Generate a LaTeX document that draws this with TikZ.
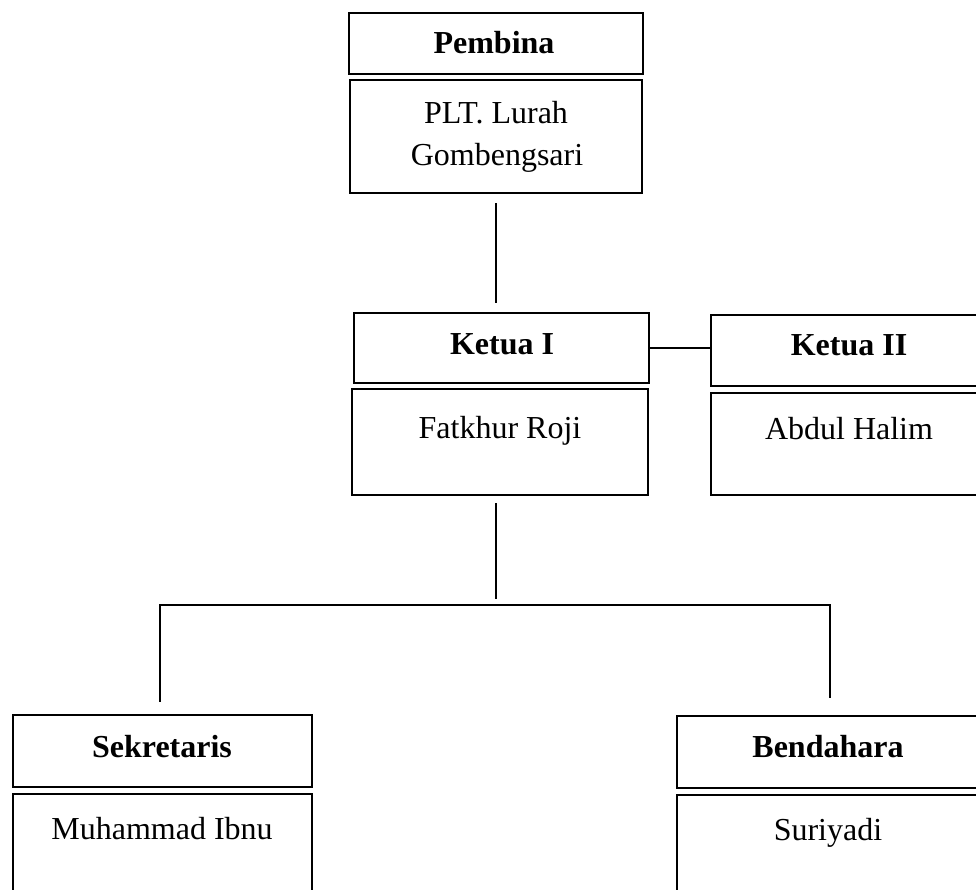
\documentclass[tikz,border=0pt]{standalone}
\usepackage{fontspec}
\setmainfont{Liberation Serif}
\begin{document}
\begin{tikzpicture}[x=1pt,y=-1pt,
  box/.style={draw, line width=2.9pt, rectangle, inner sep=0pt},
  lbl/.style={anchor=base, inner sep=0pt, font=\fontsize{32}{42}\selectfont},
  hd/.style={anchor=base, inner sep=0pt, font=\fontsize{32}{42}\selectfont\bfseries},
  conn/.style={line width=2.9pt}]
\useasboundingbox (0,0) rectangle (976,889);
\clip (0,0) rectangle (976,889);

% boxes
\node[box, minimum width=294pt, minimum height=61pt] (pembina) at (496,43.5) {};
\node[box, minimum width=292pt, minimum height=113pt] (plt) at (496,136.5) {};
\node[box, minimum width=295pt, minimum height=70pt] (ketua1) at (501.5,348) {};
\node[box, minimum width=296pt, minimum height=106pt] (fatkhur) at (500,442) {};
\node[box, minimum width=300pt, minimum height=71pt] (ketua2) at (861,350.5) {};
\node[box, minimum width=300pt, minimum height=102pt] (abdul) at (861,444) {};
\node[box, minimum width=299pt, minimum height=72pt] (sekretaris) at (162.5,751) {};
\node[box, minimum width=299pt, minimum height=108pt] (muhammad) at (162.5,848) {};
\node[box, minimum width=306pt, minimum height=72pt] (bendahara) at (830,752) {};
\node[box, minimum width=306pt, minimum height=106pt] (suriyadi) at (830,848) {};

% texts
\node[hd] (tpembina) at (494,53) {Pembina};
\node[lbl] (tplt1) at (496,123) {PLT. Lurah};
\node[lbl] (tplt2) at (497,165) {Gombengsari};
\node[hd] (tketua1) at (502,354) {Ketua I};
\node[lbl] (tfatkhur) at (500,438) {Fatkhur Roji};
\node[hd] (tketua2) at (849,355) {Ketua II};
\node[lbl] (tabdul) at (849,439) {Abdul Halim};
\node[hd] (tsekretaris) at (162,757) {Sekretaris};
\node[lbl] (tmuhammad) at (162,839) {Muhammad Ibnu};
\node[hd] (tbendahara) at (828,757) {Bendahara};
\node[lbl] (tsuriyadi) at (828,840) {Suriyadi};

% connectors
\draw[conn, shorten <=9pt, shorten >=9pt] (plt.south) -- (plt.south |- ketua1.north);
\draw[conn] (ketua1.east) -- (ketua1.east -| ketua2.west);
\coordinate (trunk) at (496,605);
\coordinate (busL) at (160,605);
\coordinate (busR) at (830,605);
\draw[conn, shorten <=7pt, shorten >=6pt] (trunk |- fatkhur.south) -- (trunk);
\draw[conn, shorten <=12pt, shorten >=17pt] (busL |- sekretaris.north) -- (busL) -- (busR) -- (busR |- bendahara.north);
\end{tikzpicture}
\end{document}
